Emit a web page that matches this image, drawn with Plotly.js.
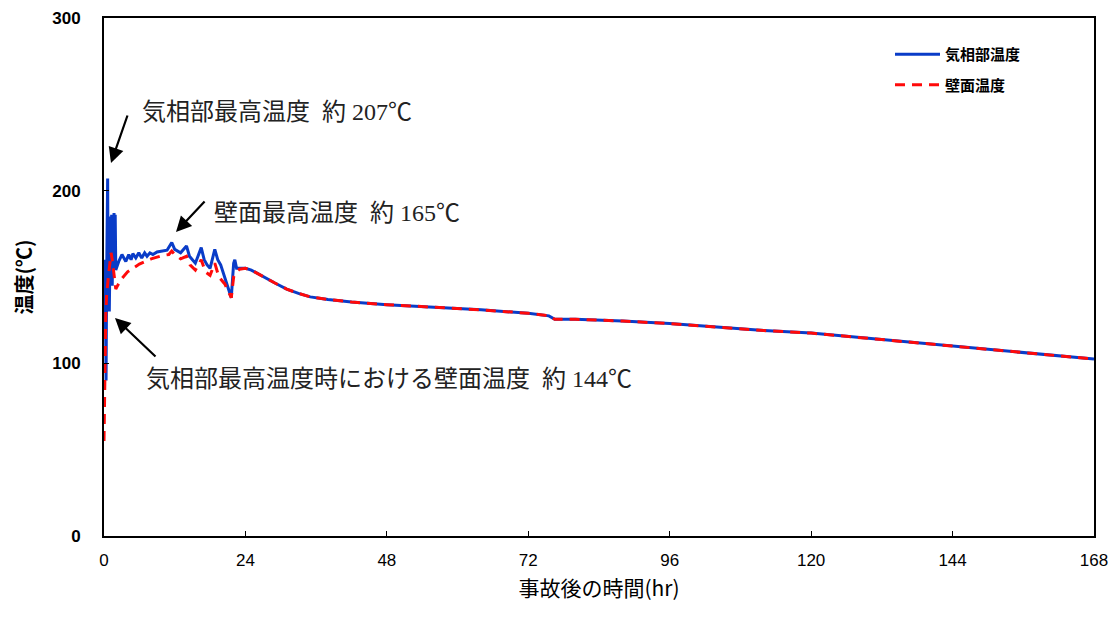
<!DOCTYPE html>
<html>
<head>
<meta charset="utf-8">
<script src="https://cdn.plot.ly/plotly-3.0.1.min.js"></script>
<style>html,body{margin:0;padding:0;background:#fff;}#chart{width:1118px;height:617px;}</style>
</head>
<body>
<div id="chart"></div>
<script>
// Gas-phase temperature (気相部温度)
const gasTime = [0,0.1,0.2,0.3,0.35,0.45,0.55,0.62,0.7,0.8,0.9,1.0,1.1,1.2,1.3,1.4,1.5,1.6,1.7,1.8,1.9,2.0,2.5,3.05,3.7,4.2,4.6,4.9,5.4,5.9,6.4,6.9,7.3,7.8,8.3,9.0,9.8,10.7,11.5,12,13,14,14.5,15,15.5,16.5,17,17.5,18,18.8,19.3,19.8,20.5,21.2,21.6,22,22.2,22.5,23,24,25,27,29,31,33,35,38,42,48,56,64,72,75.5,76.5,80,88,96,104,112,120,128,136,144,152,160,168];
const gasTemp = [120,150,160,110,90,150,175,207,140,160,130,150,185,150,186,145,185,150,187,155,186,154,159,163,159,163,160,163.5,161,164,161,164,162,164,163,164.5,165,165.5,170,166,164,168,162,160,158,167,160,157,155,166,160,157,150,142,138,158,160,155,155,155,154,150,146.5,143,140.5,138.5,137,135.5,134,132.5,131,129,127.5,125.5,125.5,124.5,123,121,119,117.5,115,112.5,110,107.5,105,102.5];
// Wall temperature (壁面温度)
const wallTime = [0,0.1,0.2,0.3,0.45,0.6,0.8,1.0,1.2,1.4,1.7,2.0,2.3,3,4,5,6,7,8,9,10,11,11.5,12,13,14,14.6,15.5,16.5,17.2,18,18.8,19.5,20.5,21.2,21.6,22,22.5,23,24,25,27,29,31,33,35,38,42,48,56,64,72,75.5,76.5,80,88,96,104,112,120,128,136,144,152,160,168];
const wallTemp = [55,90,115,128,140,144,152,158,164,160,150,143,145,149,153,155.5,157.5,159,160.5,161.5,162.5,163,165,163,160.5,162,157,154,160,153,151,158,150,146,141,138,150,153,154.5,155,154,150,146.5,143,140.5,138.5,137,135.5,134,132.5,131,129,127.5,125.5,125.5,124.5,123,121,119,117.5,115,112.5,110,107.5,105,102.5];
const xTicks = [0,24,48,72,96,120,144,168];
const yTicks = [0,100,200,300];

const serif = 'Liberation Serif, "Noto Sans CJK JP", serif';
const gothic = '"Noto Sans CJK JP", "Liberation Sans", sans-serif';

const traces = [
  {x: gasTime, y: gasTemp, mode: 'lines', name: '気相部温度', legendgroup: 'a',
   line: {color: '#0a3cc8', width: 3}},
  {x: wallTime, y: wallTemp, mode: 'lines', name: '壁面温度', legendgroup: 'b',
   line: {color: '#ff0a0a', width: 3, dash: '10px,7px'}}
];

const ann = (text, ax, ay, hx, hy, tx, ty) => [
  {xref: 'paper', yref: 'paper', x: hx, y: hy, ax: ax, ay: ay, axref: 'paper', ayref: 'paper',
   showarrow: true, arrowhead: 2, arrowsize: 1.4, arrowwidth: 2.2, arrowcolor: '#000', text: ''},
  {xref: 'paper', yref: 'paper', x: tx, y: ty, xanchor: 'left', yanchor: 'middle', showarrow: false,
   text: text, font: {family: serif, size: 24, color: '#222'}}
];
// pixel->paper helpers
const px = v => (v - 104) / 990;
const py = v => (536 - v) / 518;

const layout = {
  width: 1118, height: 617,
  margin: {l: 104, r: 24, t: 18, b: 81},
  paper_bgcolor: '#fff', plot_bgcolor: '#fff',
  showlegend: true,
  legend: {x: px(890), y: py(38), xanchor: 'left', yanchor: 'top', bgcolor: 'rgba(0,0,0,0)',
           traceorder: 'grouped', tracegroupgap: 8, itemwidth: 45,
           font: {family: gothic, size: 15, color: '#000', weight: 'bold'}},
  xaxis: {range: [0, 168], tickvals: xTicks, ticktext: xTicks.map(String),
          ticks: 'inside', ticklen: 5, tickcolor: '#000', showgrid: false, zeroline: false,
          showline: true, linecolor: '#000', linewidth: 2, mirror: true,
          ticklabelstandoff: 8,
          tickfont: {family: '"Liberation Sans Narrow", "Liberation Sans", sans-serif', size: 17, color: '#000'},
          title: {text: '事故後の時間(hr)', standoff: 12, font: {family: gothic, size: 21, color: '#000'}}},
  yaxis: {range: [0, 300], tickvals: yTicks, ticktext: yTicks.map(String),
          ticks: 'inside', ticklen: 5, tickcolor: '#000', showgrid: false, zeroline: false,
          showline: true, linecolor: '#000', linewidth: 2, mirror: true,
          ticklabelstandoff: 18,
          tickfont: {family: '"Liberation Sans", Arial, sans-serif', size: 17, color: '#000', weight: 'bold'},
          title: {text: '温度(℃)', standoff: 14, font: {family: gothic, size: 20, color: '#000', weight: 'bold'}}},
  annotations: [].concat(
    ann('気相部最高温度&nbsp;&nbsp;約 207℃', px(128), py(114), px(111), py(163), px(140), py(112)),
    ann('壁面最高温度&nbsp;&nbsp;約 165℃', px(206), py(200), px(176), py(232), px(212), py(213)),
    ann('気相部最高温度時における壁面温度&nbsp;&nbsp;約 144℃', px(157), py(358), px(115), py(318), px(144), py(379))
  )
};

Plotly.newPlot('chart', traces, layout, {displayModeBar: false, staticPlot: true});
</script>
</body>
</html>
